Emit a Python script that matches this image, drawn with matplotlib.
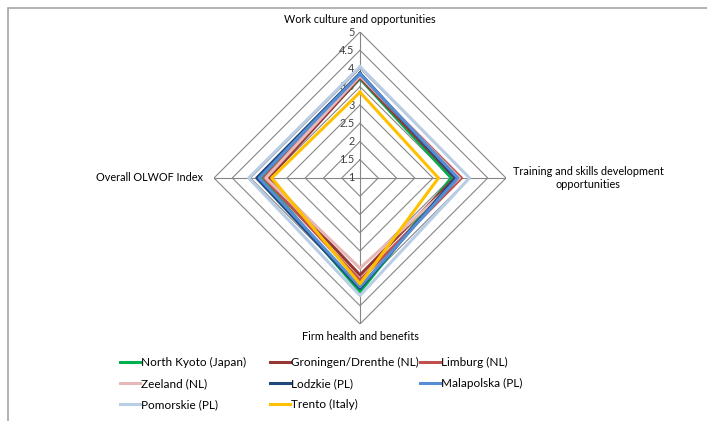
import numpy as np
import matplotlib.pyplot as plt
from matplotlib.patches import Rectangle

plt.rcParams['font.family'] = ['Lato', 'DejaVu Sans']

# categories, clockwise from the top
categories = ["Work culture and opportunities",
              "Training and skills development\nopportunities",
              "Firm health and benefits",
              "Overall OLWOF Index"]

regions = ["North Kyoto (Japan)", "Groningen/Drenthe (NL)", "Limburg (NL)",
           "Zeeland (NL)", "Lodzkie (PL)", "Malapolska (PL)",
           "Pomorskie (PL)", "Trento (Italy)"]

# values (work, training, firm health, overall)
north_kyoto = [3.72, 3.50, 4.12, 3.68]
groningen = [3.75, 3.60, 3.66, 3.50]
limburg = [3.78, 3.78, 3.80, 3.63]
zeeland = [3.80, 3.72, 3.47, 3.58]
lodzkie = [3.87, 3.62, 4.03, 3.83]
malapolska = [3.85, 3.68, 3.98, 3.76]
pomorskie = [4.05, 4.00, 4.22, 4.05]
trento = [3.35, 3.15, 3.90, 3.42]

series = [north_kyoto, groningen, limburg, zeeland, lodzkie, malapolska, pomorskie, trento]
colors = ["#00B050", "#953735", "#C0504D", "#E6B9B8", "#1F497D", "#558ED5", "#B9CDE5", "#FFC000"]

ticks = [1, 1.5, 2, 2.5, 3, 3.5, 4, 4.5, 5]

fig = plt.figure(figsize=(7.07, 4.21), dpi=100)
ax = fig.add_axes([0.3027, 0.2304, 0.413, 0.6936], projection='polar')
ax.set_theta_zero_location('N')
ax.set_theta_direction(-1)
ax.set_ylim(1, 5)

angles = np.arange(len(categories)) * 2 * np.pi / len(categories)
closed = np.append(angles, 2 * np.pi)

ax.set_xticks(angles)
ax.set_xticklabels([])
ax.xaxis.grid(True, color='#868686', lw=0.8)
ax.set_yticks(ticks)
ax.set_yticklabels([])
ax.yaxis.grid(False)
ax.spines['polar'].set_visible(False)

# diamond shaped gridlines
for r in ticks[1:]:
    ax.plot(closed, [r] * len(closed), color='#868686', lw=0.8, zorder=1)

for r in ticks:
    ax.annotate(f"{r:g}", xy=(0, r), xytext=(-4, 0), textcoords='offset points',
                ha='right', va='center', fontsize=7.8, color='#404040')

# category labels
ax.annotate(categories[0], xy=(angles[0], 5), xytext=(0, 5), textcoords='offset points',
            ha='center', va='bottom', fontsize=7.8)
ax.annotate(categories[1], xy=(angles[1], 5), xytext=(5, 0), textcoords='offset points',
            ha='left', va='center', multialignment='center', fontsize=7.8)
ax.annotate(categories[2], xy=(angles[2], 5), xytext=(0, -5), textcoords='offset points',
            ha='center', va='top', fontsize=7.8)
ax.annotate(categories[3], xy=(angles[3], 5), xytext=(-8, 0), textcoords='offset points',
            ha='right', va='center', fontsize=7.8)

handles = []
for name, vals, c in zip(regions, series, colors):
    line, = ax.plot(closed, vals + vals[:1], color=c, lw=2.2, label=name, zorder=3)
    handles.append(line)

# legend: three columns, filled row by row
col_x = [120 / 707, 270 / 707, 420 / 707]
for i in range(3):
    hs = handles[i::3]
    fig.legend(handles=hs, labels=[h.get_label() for h in hs],
               loc='upper left', bbox_to_anchor=(col_x[i], 0.152),
               frameon=False, fontsize=8.5, borderpad=0, borderaxespad=0,
               handlelength=1.7, handletextpad=0.1, labelspacing=0.85)

# chart border, cut off on the right and bottom
fig.add_artist(Rectangle((7.5 / 707, -0.5), 2, 0.982 + 0.5, transform=fig.transFigure,
                         fill=False, ec='#a6a6a6', lw=1.2, clip_on=False))

fig.savefig("out.png", dpi=100)
